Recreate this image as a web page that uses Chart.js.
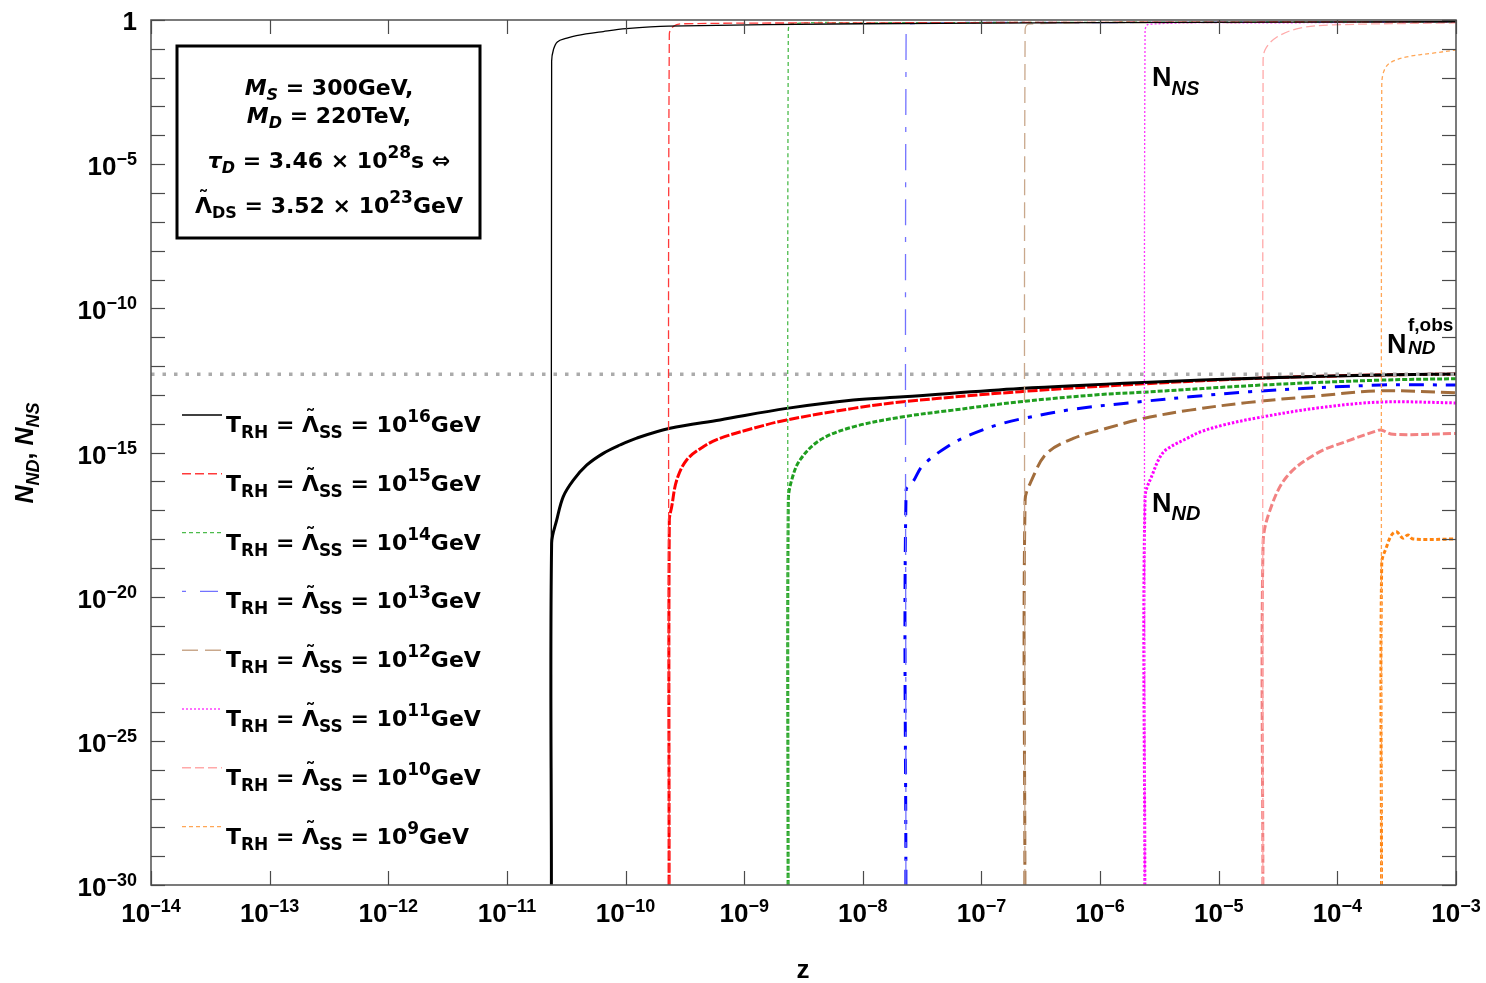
<!DOCTYPE html>
<html>
<head>
<meta charset="utf-8">
<script src="https://cdn.jsdelivr.net/npm/chart.js@4.4.1/dist/chart.umd.min.js"></script>
<style>
  html, body { margin: 0; padding: 0; background: #ffffff; }
  #wrap { width: 1486px; height: 983px; }
  canvas { display: block; }
</style>
</head>
<body>
<div id="wrap"><canvas id="c" width="1486" height="983"></canvas></div>
<script>
// ---------------- DATA (log10 values) ----------------
// x axis: log10(z), y axis: log10(N)
const X_TICK_EXP = [-14, -13, -12, -11, -10, -9, -8, -7, -6, -5, -4, -3];
const Y_TICK_EXP = [0, -1, -2, -3, -4, -5, -6, -7, -8, -9, -10, -11, -12, -13, -14, -15, -16, -17, -18, -19, -20, -21, -22, -23, -24, -25, -26, -27, -28, -29, -30];
const Y_LABEL_EXP = [0, -5, -10, -15, -20, -25, -30];
const LEGEND_EXP = ['16', '15', '14', '13', '12', '11', '10', '9'];
const N_OBS_LOG = -12.29;

// N_ND curves (thick)
const ND16_logz = [-10.625, -10.623, -10.580, -10.525, -10.440, -10.328, -10.188, -10.047, -9.906, -9.625, -9.204, -8.642, -8.080, -7.659, -6.675, -5.639, -4.635, -3.632, -3.0];
const ND16_logN = [-30, -18.15, -17.34, -16.53, -15.96, -15.44, -15.03, -14.74, -14.50, -14.16, -13.87, -13.47, -13.18, -13.07, -12.78, -12.57, -12.42, -12.31, -12.28];
const ND15_logz = [-9.633, -9.631, -9.611, -9.569, -9.485, -9.345, -9.204, -8.923, -8.642, -8.080, -7.659, -6.675, -5.639, -4.635, -3.632, -3.0];
const ND15_logN = [-30, -17.34, -16.88, -15.96, -15.26, -14.80, -14.51, -14.16, -13.87, -13.47, -13.24, -12.89, -12.62, -12.42, -12.31, -12.28];
const ND14_logz = [-8.630, -8.628, -8.600, -8.530, -8.361, -8.080, -7.659, -7.238, -6.675, -6.001, -5.639, -4.635, -3.632, -3.0];
const ND14_logN = [-30, -16.65, -15.96, -15.26, -14.57, -14.11, -13.76, -13.53, -13.24, -12.99, -12.91, -12.66, -12.49, -12.44];
const ND13_logz = [-7.637, -7.635, -7.575, -7.493, -7.265, -7.097, -6.872, -6.648, -6.226, -5.664, -5.243, -4.737, -3.632, -3.0];
const ND13_logN = [-30, -16.30, -16.00, -15.44, -14.74, -14.39, -14.05, -13.82, -13.50, -13.24, -13.07, -12.89, -12.66, -12.66];
const ND12_logz = [-6.634, -6.632, -6.577, -6.450, -6.226, -5.945, -5.636, -5.243, -4.764, -4.172, -3.632, -3.0];
const ND12_logN = [-30, -16.65, -15.96, -15.03, -14.51, -14.16, -13.82, -13.53, -13.27, -13.04, -12.86, -12.93];
const ND11_logz = [-5.623, -5.621, -5.554, -5.495, -5.436, -5.243, -5.158, -4.964, -4.678, -4.172, -3.632, -3.0];
const ND11_logN = [-30, -16.55, -15.71, -15.16, -14.88, -14.46, -14.29, -14.05, -13.80, -13.46, -13.25, -13.28];
const ND10_logz = [-4.628, -4.626, -4.568, -4.427, -4.174, -3.893, -3.669, -3.632, -3.531, -3.0];
const ND10_logN = [-30, -18.14, -17.00, -15.84, -15.03, -14.57, -14.25, -14.22, -14.37, -14.34];
const ND9_logz = [-3.628, -3.626, -3.585, -3.543, -3.501, -3.448, -3.405, -3.363, -3.0];
const ND9_logN = [-30, -18.83, -18.27, -17.86, -17.75, -17.97, -17.86, -18.00, -18.00];

// N_NS curves (thin)
const NS16_logz = [-10.625, -10.623, -10.608, -10.575, -10.494, -10.414, -10.188, -9.994, -9.639, -8.0, -6.0, -3.0];
const NS16_logN = [-30, -1.43, -1.03, -0.76, -0.63, -0.54, -0.40, -0.30, -0.21, -0.13, -0.09, -0.06];
const NS15_logz = [-9.633, -9.631, -9.592, -9.510, -8.0, -6.0, -3.0];
const NS15_logN = [-30, -0.49, -0.21, -0.13, -0.10, -0.08, -0.06];
const NS14_logz = [-8.630, -8.628, -8.600, -8.0, -6.0, -3.0];
const NS14_logN = [-30, -0.35, -0.13, -0.10, -0.08, -0.06];
const NS13_logz = [-7.637, -7.635, -7.605, -6.0, -3.0];
const NS13_logN = [-30, -0.35, -0.13, -0.09, -0.06];
const NS12_logz = [-6.634, -6.632, -6.602, -5.0, -3.0];
const NS12_logN = [-30, -0.35, -0.14, -0.09, -0.06];
const NS11_logz = [-5.623, -5.621, -5.591, -4.5, -3.0];
const NS11_logN = [-30, -0.40, -0.15, -0.10, -0.07];
const NS10_logz = [-4.628, -4.626, -4.610, -4.509, -4.315, -4.037, -3.0];
const NS10_logN = [-30, -1.63, -1.04, -0.59, -0.28, -0.17, -0.10];
const NS9_logz = [-3.628, -3.626, -3.610, -3.558, -3.415, -3.194, -3.0];
const NS9_logN = [-30, -2.32, -1.80, -1.49, -1.28, -1.15, -1.04];

// ---------------- build ----------------
const toPts = (lz, ln) => lz.map((v, i) => ({ x: Math.pow(10, v), y: Math.pow(10, ln[i]) }));

const STYLES = [
  { nd: '#000000', ns: '#000000', ndDash: [], nsDash: [] },
  { nd: '#ff0000', ns: '#ff3a3a', ndDash: [10, 2], nsDash: [9, 4] },
  { nd: '#1f9e1f', ns: '#4cbb4c', ndDash: [5, 2], nsDash: [4, 3] },
  { nd: '#0000ff', ns: '#7272ff', ndDash: [15, 9, 4, 9], nsDash: [26, 12, 5, 12] },
  { nd: '#a26d3c', ns: '#c9a88c', ndDash: [14, 6], nsDash: [16, 7] },
  { nd: '#ff00ff', ns: '#ff33ff', ndDash: [2.5, 1.8], nsDash: [2, 2] },
  { nd: '#f28282', ns: '#ffa9a9', ndDash: [8, 3], nsDash: [9, 4] },
  { nd: '#ff8410', ns: '#ffa656', ndDash: [4, 2.5], nsDash: [4, 3] }
];
const ND_SETS = [[ND16_logz, ND16_logN], [ND15_logz, ND15_logN], [ND14_logz, ND14_logN], [ND13_logz, ND13_logN],
                 [ND12_logz, ND12_logN], [ND11_logz, ND11_logN], [ND10_logz, ND10_logN], [ND9_logz, ND9_logN]];
const NS_SETS = [[NS16_logz, NS16_logN], [NS15_logz, NS15_logN], [NS14_logz, NS14_logN], [NS13_logz, NS13_logN],
                 [NS12_logz, NS12_logN], [NS11_logz, NS11_logN], [NS10_logz, NS10_logN], [NS9_logz, NS9_logN]];

const datasets = [];
NS_SETS.forEach((s, i) => {
  datasets.push({
    label: 'NS ' + LEGEND_EXP[i], data: toPts(s[0], s[1]), showLine: true,
    borderColor: STYLES[i].ns, borderWidth: 1.3, borderDash: STYLES[i].nsDash,
    pointRadius: 0, tension: 0.35, fill: false
  });
});
datasets.push({
  label: 'obs', data: [{ x: Math.pow(10, X_TICK_EXP[0]), y: Math.pow(10, N_OBS_LOG) }, { x: Math.pow(10, X_TICK_EXP[X_TICK_EXP.length - 1]), y: Math.pow(10, N_OBS_LOG) }],
  showLine: true, borderColor: '#ababab', borderWidth: 3.5, borderDash: [3.5, 8], pointRadius: 0, fill: false
});
ND_SETS.forEach((s, i) => {
  datasets.push({
    label: 'ND ' + LEGEND_EXP[i], data: toPts(s[0], s[1]), showLine: true,
    borderColor: STYLES[i].nd, borderWidth: 3, borderDash: STYLES[i].ndDash,
    pointRadius: 0, tension: 0.35, fill: false
  });
});

// ---------------- text helpers ----------------
const DJ = '"DejaVu Sans"';
const LB = '"Liberation Sans"';
function fnt(s) { return (s.i ? 'italic ' : '') + 'bold ' + s.s + 'px ' + (s.f || DJ); }
function rich(ctx, segs, x, y, align) {
  let w = 0;
  segs.forEach(s => { ctx.font = fnt(s); s.w = ctx.measureText(s.t).width; w += s.w + (s.g || 0); });
  let cx = align === 'center' ? x - w / 2 : (align === 'right' ? x - w : x);
  ctx.textBaseline = 'alphabetic';
  segs.forEach(s => {
    ctx.font = fnt(s);
    ctx.textAlign = 'left';
    ctx.fillText(s.t, cx, y + (s.dy || 0));
    if (s.acc) {
      ctx.font = 'bold ' + Math.round(s.s * 0.95) + 'px ' + DJ;
      ctx.textAlign = 'center';
      ctx.fillText(s.acc, cx + s.w / 2, y + (s.dy || 0) - s.s * 0.30);
    }
    cx += s.w + (s.g || 0);
  });
  ctx.textAlign = 'left';
  return w;
}

const decor = {
  id: 'decor',
  afterDatasetsDraw(chart) {
    const ctx = chart.ctx;
    const a = chart.chartArea;
    const xs = chart.scales.x, ys = chart.scales.y;
    ctx.save();
    ctx.fillStyle = '#000';
    // frame
    ctx.strokeStyle = '#5a5a5a';
    ctx.lineWidth = 1.6;
    ctx.strokeRect(a.left, a.top, a.right - a.left, a.bottom - a.top);
    // ticks
    ctx.lineWidth = 1.2;
    ctx.strokeStyle = '#4a4a4a';
    const TL = 14;
    X_TICK_EXP.forEach(e => {
      const px = Math.round(xs.getPixelForValue(Math.pow(10, e))) + 0.5;
      ctx.beginPath(); ctx.moveTo(px, a.bottom); ctx.lineTo(px, a.bottom - TL); ctx.stroke();
      ctx.beginPath(); ctx.moveTo(px, a.top); ctx.lineTo(px, a.top + TL); ctx.stroke();
    });
    Y_TICK_EXP.forEach(e => {
      const py = Math.round(ys.getPixelForValue(Math.pow(10, e))) + 0.5;
      ctx.beginPath(); ctx.moveTo(a.left, py); ctx.lineTo(a.left + TL, py); ctx.stroke();
      ctx.beginPath(); ctx.moveTo(a.right, py); ctx.lineTo(a.right - TL, py); ctx.stroke();
    });
    // y tick labels
    Y_LABEL_EXP.forEach(e => {
      const py = ys.getPixelForValue(Math.pow(10, e));
      if (e === 0) {
        rich(ctx, [{ t: '1', s: 26, f: LB }], 137, py + 10, 'right');
      } else {
        rich(ctx, [{ t: '10', s: 26, f: LB }, { t: '\u2212' + (-e), s: 18, f: LB, dy: -10 }], 137, py + 11, 'right');
      }
    });
    // x tick labels
    X_TICK_EXP.forEach(e => {
      const px = xs.getPixelForValue(Math.pow(10, e));
      rich(ctx, [{ t: '10', s: 26, f: LB }, { t: '\u2212' + (-e), s: 18, f: LB, dy: -10 }], px, 922, 'center');
    });
    // axis titles
    rich(ctx, [{ t: 'z', s: 26, f: LB }], 803, 978, 'center');
    ctx.save();
    ctx.translate(33, 453);
    ctx.rotate(-Math.PI / 2);
    rich(ctx, [{ t: 'N', s: 25, f: LB, i: true }, { t: 'ND', s: 18, f: LB, i: true, dy: 6 }, { t: ', ', s: 25, f: LB },
               { t: 'N', s: 25, f: LB, i: true }, { t: 'NS', s: 18, f: LB, i: true, dy: 6 }], 0, 0, 'center');
    ctx.restore();

    // annotations
    rich(ctx, [{ t: 'N', s: 27, f: LB }, { t: 'NS', s: 20, f: LB, i: true, dy: 9 }], 1152, 86, 'left');
    rich(ctx, [{ t: 'N', s: 27, f: LB }, { t: 'ND', s: 20, f: LB, i: true, dy: 8 }], 1152, 512, 'left');
    ctx.font = 'bold 27px ' + LB;
    ctx.fillText('N', 1387, 353);
    ctx.font = 'bold 19px ' + LB;
    ctx.fillText('f,obs', 1408, 331);
    ctx.font = 'italic bold 19px ' + LB;
    ctx.fillText('ND', 1408, 354);

    // parameter box
    ctx.fillStyle = '#fff';
    ctx.fillRect(177, 46, 303, 192);
    ctx.strokeStyle = '#000';
    ctx.lineWidth = 3;
    ctx.strokeRect(177, 46, 303, 192);
    ctx.fillStyle = '#000';
    const bc = 329;
    rich(ctx, [{ t: 'M', s: 22, i: true }, { t: 'S', s: 16, i: true, dy: 5 }, { t: ' = 300GeV,', s: 22 }], bc, 95, 'center');
    rich(ctx, [{ t: 'M', s: 22, i: true }, { t: 'D', s: 16, i: true, dy: 5 }, { t: ' = 220TeV,', s: 22 }], bc, 123, 'center');
    rich(ctx, [{ t: '\u03C4', s: 22, i: true }, { t: 'D', s: 16, i: true, dy: 5 }, { t: ' = 3.46 \u00D7 10', s: 22 },
               { t: '28', s: 17, dy: -10 }, { t: 's \u21D4', s: 22 }], bc, 168, 'center');
    rich(ctx, [{ t: '\u039B', s: 22, acc: '\u02DC' }, { t: 'DS', s: 16, dy: 5 }, { t: ' = 3.52 \u00D7 10', s: 22 },
               { t: '23', s: 17, dy: -10 }, { t: 'GeV', s: 22 }], bc, 213, 'center');

    // legend
    LEGEND_EXP.forEach((ex, i) => {
      const ly = 415 + i * 58.8;
      ctx.save();
      ctx.strokeStyle = STYLES[i].ns;
      ctx.lineWidth = 1.4;
      ctx.setLineDash(STYLES[i].nsDash.length === 4 ? [4, 14, 18, 4] : STYLES[i].nsDash);
      ctx.beginPath(); ctx.moveTo(182, ly); ctx.lineTo(222, ly); ctx.stroke();
      ctx.restore();
      rich(ctx, [{ t: 'T', s: 22 }, { t: 'RH', s: 17, dy: 6 }, { t: ' = ', s: 22 }, { t: '\u039B', s: 22, acc: '\u02DC' },
                 { t: 'SS', s: 17, dy: 6 }, { t: ' = 10', s: 22 }, { t: ex, s: 17, dy: -10 }, { t: 'GeV', s: 22 }],
           226, ly + 17, 'left');
    });
    ctx.restore();
  }
};

new Chart(document.getElementById('c'), {
  type: 'scatter',
  data: { datasets },
  options: {
    responsive: false,
    animation: false,
    devicePixelRatio: 1,
    layout: { padding: { left: 151, right: 30, top: 20, bottom: 98 } },
    scales: {
      x: { type: 'logarithmic', min: Math.pow(10, X_TICK_EXP[0]), max: Math.pow(10, X_TICK_EXP[X_TICK_EXP.length - 1]), display: false },
      y: { type: 'logarithmic', min: Math.pow(10, Y_TICK_EXP[Y_TICK_EXP.length - 1]), max: Math.pow(10, Y_TICK_EXP[0]), display: false }
    },
    plugins: { legend: { display: false }, tooltip: { enabled: false } },
    elements: { point: { radius: 0 } }
  },
  plugins: [decor]
});
</script>
</body>
</html>
